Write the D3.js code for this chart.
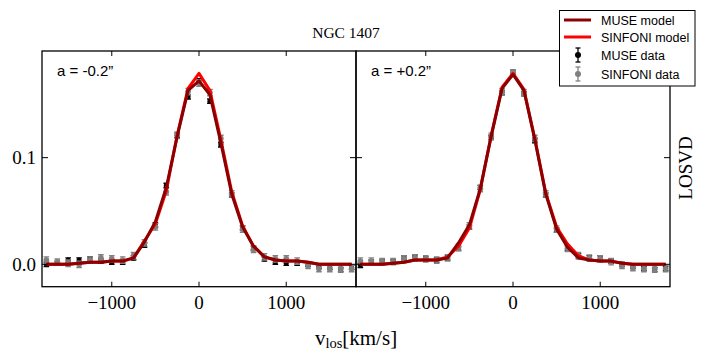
<!DOCTYPE html>
<html>
<head>
<meta charset="utf-8">
<script src="https://cdn.jsdelivr.net/npm/d3@7"></script>
<style>
  body { margin: 0; background: #fff; }
  svg { display: block; }
</style>
</head>
<body>
<svg id="chart" width="706" height="360"></svg>
<script>
// ---- data ----
const velocities = [-1750,-1625,-1500,-1375,-1250,-1125,-1000,-875,-750,-625,-500,-375,-250,-125,0,125,250,375,500,625,750,875,1000,1125,1250,1375,1500,1625,1750];
const panelLabels = ["a = -0.2\u201D", "a = +0.2\u201D"];
const xTicks = [-1000, 0, 1000];
const yTicks = [0.0, 0.1];

const museDataL = [0.000,0.001,0.004,0.004,0.005,0.003,0.002,0.002,0.006,0.018,0.037,0.074,0.121,0.157,0.172,0.153,0.112,0.065,0.034,0.015,0.005,0.002,0.001,0.001,0.000,-0.002,-0.003,-0.005,-0.003];
const sinfDataL = [0.004,0.002,0.001,0.000,0.004,0.006,0.005,0.004,0.008,0.020,0.035,0.068,0.121,0.162,0.170,0.161,0.118,0.066,0.033,0.014,0.007,0.005,0.005,0.003,-0.001,-0.004,-0.004,-0.004,-0.004];
const museModelL = [0.000,0.000,0.000,0.001,0.002,0.002,0.003,0.003,0.006,0.021,0.040,0.072,0.120,0.163,0.172,0.159,0.114,0.066,0.035,0.017,0.007,0.004,0.003,0.003,0.002,0.000,0.000,0.000,0.000];
const sinfModelL = [0.000,0.000,0.000,0.001,0.002,0.002,0.003,0.003,0.006,0.022,0.038,0.069,0.121,0.165,0.179,0.163,0.117,0.068,0.036,0.017,0.007,0.004,0.003,0.003,0.002,0.000,0.000,0.000,0.000];

const museDataR = [-0.001,0.002,0.002,0.002,0.006,0.007,0.005,0.004,0.006,0.015,0.035,0.072,0.119,0.161,0.180,0.160,0.116,0.065,0.032,0.015,0.008,0.006,0.006,0.003,0.000,-0.002,-0.004,-0.005,-0.004];
const sinfDataR = [0.003,0.003,0.0025,0.0025,0.005,0.006,0.005,0.004,0.006,0.016,0.036,0.071,0.120,0.162,0.179,0.161,0.118,0.066,0.033,0.015,0.008,0.0057,0.005,0.0025,-0.001,-0.003,-0.004,-0.004,-0.004];
const museModelR = [0.000,0.000,0.000,0.001,0.002,0.004,0.004,0.004,0.006,0.020,0.037,0.071,0.120,0.165,0.178,0.163,0.117,0.066,0.033,0.016,0.006,0.004,0.003,0.003,0.001,0.000,0.000,0.000,0.000];
const sinfModelR = [0.000,0.000,0.000,0.001,0.002,0.004,0.004,0.004,0.007,0.017,0.034,0.070,0.121,0.166,0.179,0.164,0.118,0.067,0.035,0.019,0.008,0.004,0.003,0.003,0.001,0.000,0.000,0.000,0.000];

const museErr = 0.002;
const sinfErr = 0.003;

// ---- layout ----
const svg = d3.select("#chart");
const plotTop = 51, plotBottom = 286.7, panelW = 314;
const lefts = [42, 356];
const serif = "'Liberation Serif', 'DejaVu Serif', serif";
const sans = "'Liberation Sans', Arial, sans-serif";
const darkRed = "#8b0000", red = "#ff0000";

const y = d3.scaleLinear().domain([-0.021, 0.2]).range([plotBottom, plotTop]);

const panels = [
  {museData: museDataL, sinfData: sinfDataL, museModel: museModelL, sinfModel: sinfModelL},
  {museData: museDataR, sinfData: sinfDataR, museModel: museModelR, sinfModel: sinfModelR}
];

panels.forEach((p, i) => {
  const x0 = lefts[i];
  const x = d3.scaleLinear().domain([-1800, 1800]).range([x0, x0 + panelW]);
  const g = svg.append("g");
  const clipId = "clip" + i;
  svg.append("clipPath").attr("id", clipId).append("rect")
    .attr("x", x0).attr("y", plotTop).attr("width", panelW).attr("height", plotBottom - plotTop);
  const plot = g.append("g").attr("clip-path", `url(#${clipId})`);

  function drawData(vals, err, color, r) {
    const pts = velocities.map((v, k) => ({v, val: vals[k]}));
    const eg = plot.append("g").attr("stroke", color).attr("stroke-width", 1.4);
    pts.forEach(d => {
      const cx = x(d.v);
      eg.append("line").attr("x1", cx).attr("x2", cx).attr("y1", y(d.val - err)).attr("y2", y(d.val + err));
      eg.append("line").attr("x1", cx - 2.8).attr("x2", cx + 2.8).attr("y1", y(d.val - err)).attr("y2", y(d.val - err));
      eg.append("line").attr("x1", cx - 2.8).attr("x2", cx + 2.8).attr("y1", y(d.val + err)).attr("y2", y(d.val + err));
    });
    plot.append("g").selectAll("circle").data(pts).join("circle")
      .attr("cx", d => x(d.v)).attr("cy", d => y(d.val)).attr("r", r).attr("fill", color);
  }
  drawData(p.museData, museErr, "#000", 2.5);
  drawData(p.sinfData, sinfErr, "#808080", 2.9);

  const line = d3.line().x((d, k) => x(velocities[k])).y(d => y(d));
  plot.append("path").datum(p.sinfModel).attr("d", line)
    .attr("fill", "none").attr("stroke", red).attr("stroke-width", 3).attr("stroke-linejoin", "round");
  plot.append("path").datum(p.museModel).attr("d", line)
    .attr("fill", "none").attr("stroke", darkRed).attr("stroke-width", 3).attr("stroke-linejoin", "round");

  // ticks (inward, all sides)
  const tg = g.append("g").attr("stroke", "#000").attr("stroke-width", 1);
  xTicks.forEach(t => {
    tg.append("line").attr("x1", x(t)).attr("x2", x(t)).attr("y1", plotBottom).attr("y2", plotBottom - 5);
    tg.append("line").attr("x1", x(t)).attr("x2", x(t)).attr("y1", plotTop).attr("y2", plotTop + 5);
  });
  yTicks.forEach(t => {
    tg.append("line").attr("x1", x0).attr("x2", x0 + 6).attr("y1", y(t)).attr("y2", y(t));
    tg.append("line").attr("x1", x0 + panelW).attr("x2", x0 + panelW - 6).attr("y1", y(t)).attr("y2", y(t));
  });

  // x tick labels
  g.append("g").selectAll("text").data(xTicks).join("text")
    .attr("x", d => x(d)).attr("y", 309)
    .attr("text-anchor", "middle")
    .attr("font-family", serif).attr("font-size", 19)
    .text(d => d < 0 ? "\u2212" + Math.abs(d) : String(d));

  // frame
  g.append("rect").attr("x", x0).attr("y", plotTop).attr("width", panelW).attr("height", plotBottom - plotTop)
    .attr("fill", "none").attr("stroke", "#000").attr("stroke-width", 1.3);

  // panel annotation
  g.append("text").attr("x", x0 + 15).attr("y", 76)
    .attr("font-family", sans).attr("font-size", 15)
    .text(panelLabels[i]);
});

// y tick labels
svg.append("g").selectAll("text").data(yTicks).join("text")
  .attr("x", 36).attr("y", d => y(d) + 6.5)
  .attr("text-anchor", "end")
  .attr("font-family", serif).attr("font-size", 19)
  .text(d => d.toFixed(1));

// title
svg.append("text").attr("x", 346).attr("y", 38).attr("text-anchor", "middle")
  .attr("font-family", serif).attr("font-size", 15.5).text("NGC 1407");

// x label
const xl = svg.append("text").attr("x", 356).attr("y", 345).attr("text-anchor", "middle")
  .attr("font-family", serif).attr("font-size", 21);
xl.append("tspan").text("v");
xl.append("tspan").attr("font-size", 14.5).attr("dy", 3).text("los");
xl.append("tspan").attr("dy", -3).text("[km/s]");

// y label (right)
svg.append("text").attr("transform", "translate(692,168) rotate(-90)")
  .attr("text-anchor", "middle").attr("font-family", serif).attr("font-size", 19).text("LOSVD");

// legend
const lg = svg.append("g");
lg.append("rect").attr("x", 559.5).attr("y", 10.5).attr("width", 135.5).attr("height", 75.5)
  .attr("fill", "#fff").attr("stroke", "#000").attr("stroke-width", 1);
const legendItems = [
  {label: "MUSE model", type: "line", color: darkRed, yy: 20},
  {label: "SINFONI model", type: "line", color: red, yy: 37},
  {label: "MUSE data", type: "pt", color: "#000", yy: 55},
  {label: "SINFONI data", type: "pt", color: "#808080", yy: 74}
];
legendItems.forEach(it => {
  if (it.type === "line") {
    lg.append("line").attr("x1", 564).attr("x2", 591).attr("y1", it.yy).attr("y2", it.yy)
      .attr("stroke", it.color).attr("stroke-width", 3);
  } else {
    const cx = 578;
    lg.append("line").attr("x1", cx).attr("x2", cx).attr("y1", it.yy - 7).attr("y2", it.yy + 7)
      .attr("stroke", it.color).attr("stroke-width", 1.3);
    lg.append("line").attr("x1", cx - 2.5).attr("x2", cx + 2.5).attr("y1", it.yy - 7).attr("y2", it.yy - 7)
      .attr("stroke", it.color).attr("stroke-width", 1.3);
    lg.append("line").attr("x1", cx - 2.5).attr("x2", cx + 2.5).attr("y1", it.yy + 7).attr("y2", it.yy + 7)
      .attr("stroke", it.color).attr("stroke-width", 1.3);
    lg.append("circle").attr("cx", cx).attr("cy", it.yy).attr("r", 3).attr("fill", it.color);
  }
  lg.append("text").attr("x", 601).attr("y", it.yy + 4.5)
    .attr("font-family", sans).attr("font-size", 12.5).text(it.label);
});
</script>
</body>
</html>
